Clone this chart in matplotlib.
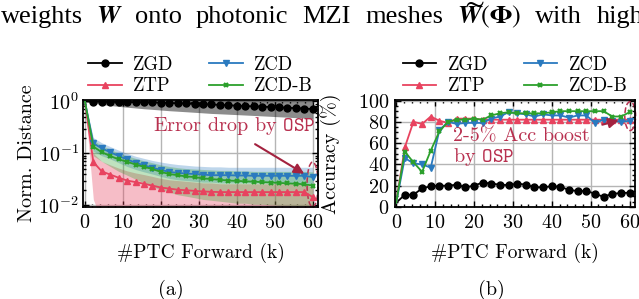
import matplotlib
matplotlib.use('Agg')
import matplotlib.pyplot as plt
from matplotlib.patches import Ellipse
from matplotlib.ticker import AutoMinorLocator, LogLocator, NullFormatter

plt.rcParams['font.family'] = ['cmr10', 'DejaVu Serif']
plt.rcParams['mathtext.fontset'] = 'cm'
plt.rcParams['axes.formatter.use_mathtext'] = True
plt.rcParams['axes.unicode_minus'] = False

# ---------------- data ----------------
x_k = [0.0, 2.22, 4.44, 6.67, 8.89, 11.11, 13.33, 15.56, 17.78, 20.0, 22.22, 24.44, 26.67, 28.89,
       31.11, 33.33, 35.56, 37.78, 40.0, 42.22, 44.44, 46.67, 48.89, 51.11, 53.33, 55.56, 57.78, 60.0]

methods = ['ZGD', 'ZTP', 'ZCD', 'ZCD-B']

# (a) normalized distance (mean, lower, upper)
dist_zgd = [1.0, 0.99, 0.985, 0.98, 0.975, 0.97, 0.965, 0.96, 0.95, 0.94, 0.93, 0.92, 0.91, 0.895,
            0.88, 0.87, 0.855, 0.84, 0.825, 0.81, 0.80, 0.79, 0.775, 0.765, 0.75, 0.74, 0.725, 0.71]
dist_zgd_lo = [1.0, 0.92, 0.87, 0.83, 0.80, 0.77, 0.745, 0.72, 0.70, 0.68, 0.66, 0.645, 0.63, 0.615,
               0.60, 0.585, 0.575, 0.565, 0.555, 0.545, 0.535, 0.525, 0.515, 0.505, 0.495, 0.485, 0.475, 0.465]
dist_zgd_hi = [1.0, 1.1, 1.1, 1.1, 1.1, 1.1, 1.1, 1.1, 1.1, 1.1, 1.1, 1.1, 1.1, 1.1,
               1.1, 1.1, 1.1, 1.1, 1.1, 1.1, 1.1, 1.1, 1.1, 1.1, 1.1, 1.1, 1.1, 1.1]

dist_ztp = [1.0, 0.068, 0.045, 0.039, 0.034, 0.030, 0.028, 0.026, 0.024, 0.022, 0.021, 0.020, 0.0195, 0.019,
            0.0185, 0.0182, 0.018, 0.018, 0.018, 0.018, 0.018, 0.018, 0.018, 0.018, 0.018, 0.018, 0.018, 0.0145]
dist_ztp_lo = [1.0, 0.013, 0.005, 0.005, 0.005, 0.005, 0.005, 0.005, 0.005, 0.005, 0.005, 0.005, 0.005, 0.005,
               0.005, 0.005, 0.005, 0.005, 0.005, 0.005, 0.005, 0.005, 0.005, 0.005, 0.005, 0.005, 0.005, 0.005]
dist_ztp_hi = [1.0, 0.10, 0.07, 0.06, 0.052, 0.046, 0.042, 0.039, 0.036, 0.033, 0.031, 0.030, 0.029, 0.028,
               0.027, 0.027, 0.026, 0.026, 0.026, 0.026, 0.026, 0.026, 0.026, 0.026, 0.026, 0.026, 0.026, 0.022]

dist_zcd = [1.0, 0.156, 0.125, 0.105, 0.089, 0.0765, 0.066, 0.059, 0.053, 0.048, 0.044, 0.042, 0.041, 0.040,
            0.039, 0.038, 0.038, 0.038, 0.0375, 0.0375, 0.037, 0.037, 0.037, 0.037, 0.037, 0.037, 0.037, 0.035]
dist_zcd_lo = [1.0, 0.11, 0.09, 0.078, 0.066, 0.056, 0.049, 0.044, 0.040, 0.036, 0.033, 0.031, 0.030, 0.029,
               0.028, 0.028, 0.027, 0.027, 0.027, 0.027, 0.027, 0.027, 0.027, 0.027, 0.027, 0.027, 0.027, 0.026]
dist_zcd_hi = [1.0, 0.20, 0.16, 0.135, 0.115, 0.10, 0.088, 0.080, 0.073, 0.068, 0.064, 0.061, 0.059, 0.057,
               0.056, 0.055, 0.055, 0.054, 0.054, 0.054, 0.054, 0.054, 0.054, 0.054, 0.054, 0.054, 0.054, 0.054]

dist_zcdb = [1.0, 0.135, 0.105, 0.089, 0.0765, 0.069, 0.061, 0.055, 0.050, 0.044, 0.040, 0.038, 0.036, 0.035,
             0.033, 0.032, 0.031, 0.030, 0.0295, 0.029, 0.0285, 0.028, 0.0275, 0.027, 0.0265, 0.026, 0.0255, 0.024]
dist_zcdb_lo = [1.0, 0.09, 0.07, 0.056, 0.045, 0.038, 0.032, 0.027, 0.023, 0.020, 0.018, 0.016, 0.015, 0.014,
                0.013, 0.0125, 0.012, 0.0115, 0.011, 0.011, 0.0105, 0.0105, 0.0102, 0.0100, 0.0100, 0.0098, 0.0097, 0.0095]
dist_zcdb_hi = [1.0, 0.18, 0.14, 0.12, 0.10, 0.09, 0.08, 0.072, 0.066, 0.060, 0.056, 0.053, 0.051, 0.050,
                0.049, 0.048, 0.047, 0.047, 0.046, 0.046, 0.045, 0.045, 0.045, 0.045, 0.045, 0.045, 0.045, 0.044]

# (b) accuracy (%)
acc_zgd = [4, 11.5, 11.5, 17.5, 19.5, 20, 20, 21, 18.5, 20, 23, 22, 21, 20.5,
           22, 21, 18.5, 18.5, 19.5, 19, 16, 15, 15, 12.5, 9.5, 12.5, 13, 13.5]
acc_ztp = [4, 56, 80, 78, 85, 81, 79, 83, 83, 83, 82, 82, 82, 82,
           82, 82, 82, 82, 82, 82, 82, 82, 82, 82, 82, 82, 82, 82]
acc_zcd = [4, 46, 41, 40, 37, 72, 80, 78, 79, 79, 79, 83, 85, 89,
           88, 87, 85, 87, 86, 86, 84, 86, 86, 79, 82, 81, 80, 81]
acc_zcdb = [4, 52, 42, 33, 53, 71, 80, 82, 82, 83, 82, 86, 88, 89,
            88, 88, 88, 88, 89, 90, 90, 90, 90, 90, 90, 85, 85, 89]

x_ticks = [0, 10, 20, 30, 40, 50, 60]
acc_ticks = [0, 20, 40, 60, 80, 100]

caption_words = ['weights', r'$\boldsymbol{W}$', 'onto', 'photonic', 'MZI', 'meshes',
                 r'$\boldsymbol{W}(\boldsymbol{\Phi})$', 'with', 'high']
caption_xpx = [1, 96, 135, 196, 302, 365, 457, 535, 597]

# ---------------- style ----------------
col = {'ZGD': '#000000', 'ZTP': '#e8435f', 'ZCD': '#2a7abf', 'ZCD-B': '#2ca02c'}
mk = {'ZGD': 'o', 'ZTP': '^', 'ZCD': 'v', 'ZCD-B': 'x'}
ann_col = '#b8304f'
FS = 14.5

fig = plt.figure(figsize=(6.39, 2.99), dpi=100)
ax1 = fig.add_axes([83/639, 1-207/299, 235/639, 107/299])
ax2 = fig.add_axes([395/639, 1-207/299, 240/639, 107/299])

dist = {'ZGD': (dist_zgd, dist_zgd_lo, dist_zgd_hi), 'ZTP': (dist_ztp, dist_ztp_lo, dist_ztp_hi),
        'ZCD': (dist_zcd, dist_zcd_lo, dist_zcd_hi), 'ZCD-B': (dist_zcdb, dist_zcdb_lo, dist_zcdb_hi)}
acc = {'ZGD': acc_zgd, 'ZTP': acc_ztp, 'ZCD': acc_zcd, 'ZCD-B': acc_zcdb}
band_alpha = {'ZGD': 0.45, 'ZTP': 0.35, 'ZCD': 0.3, 'ZCD-B': 0.3}

for m in methods:
    mean, lo, hi = dist[m]
    ax1.fill_between(x_k, lo, hi, color=col[m], alpha=band_alpha[m], lw=0)
for m in methods:
    mean, lo, hi = dist[m]
    mew = 1.6 if m == 'ZCD-B' else 1.0
    ms = 3.5 if m == 'ZCD-B' else 5
    ax1.plot(x_k, mean, color=col[m], marker=mk[m], ms=ms, mew=mew, lw=1.3,
             markevery=slice(1, None), label=m)
    ax2.plot(x_k, acc[m], color=col[m], marker=mk[m], ms=ms, mew=mew, lw=1.3,
             markevery=slice(1, None), label=m)

ax1.set_yscale('log')
ax1.set_ylim(0.0093, 1.06)
ax1.set_xlim(-0.5, 61.4)
ax1.yaxis.set_major_locator(LogLocator(base=10, numticks=5))
ax1.yaxis.set_minor_locator(LogLocator(base=10, subs=range(2, 10), numticks=20))
ax1.yaxis.set_minor_formatter(NullFormatter())

ax2.set_ylim(0, 100.5)
ax2.set_xlim(-0.3, 61.4)
ax2.set_yticks(acc_ticks)
ax2.yaxis.set_minor_locator(AutoMinorLocator(4))

for ax in (ax1, ax2):
    ax.set_xticks(x_ticks)
    ax.xaxis.set_minor_locator(AutoMinorLocator(5))
    ax.grid(True, which='major', color='#b5b5b5', lw=1.0)
    ax.set_axisbelow(True)
    ax.tick_params(which='both', direction='in', top=True, right=True, labelsize=FS, width=1.0)
    ax.tick_params(which='major', length=4)
    ax.tick_params(which='minor', length=2.2)
    ax.tick_params(axis='x', pad=5)
    for s in ax.spines.values():
        s.set_linewidth(1.3)
    ax.set_xlabel('#PTC Forward (k)', fontsize=14, labelpad=8)
    ax.legend(loc='lower center', bbox_to_anchor=(0.5, 1.0), ncol=2, frameon=False,
              fontsize=13.5, handlelength=1.8, handletextpad=0.6, columnspacing=1.9,
              labelspacing=0.2, borderaxespad=0.15, borderpad=0.1)

ax1.tick_params(axis='y', pad=3)
ax2.tick_params(axis='y', pad=4)
ax1.set_ylabel('Norm. Distance', fontsize=FS, labelpad=2)
ax2.set_ylabel('Accuracy (%)', fontsize=FS, labelpad=12)

# annotations (a)
ax1.text(18.0, 0.33, r'Error drop by $\mathtt{OSP}$', color=ann_col, fontsize=FS,
         ha='left', va='center')
ax1.annotate('', xy=(58.4, 0.038), xytext=(44.2, 0.16),
             arrowprops=dict(arrowstyle='-|>,head_length=0.6,head_width=0.3', color='#a3223f', lw=1.5))
ax1.add_patch(Ellipse((0.977, 0.21), 0.047, 0.42, transform=ax1.transAxes, fill=False,
                      ls='--', lw=1.1, ec=ann_col, clip_on=False))

# annotations (b)
ax2.text(14.6, 56, '2-5% Acc boost\nby ' + r'$\mathtt{OSP}$', color=ann_col, fontsize=FS,
         ha='left', va='center', linespacing=1.05)
ax2.annotate('', xy=(57.9, 82.2), xytext=(52.3, 76.6),
             arrowprops=dict(arrowstyle='-|>,head_length=0.6,head_width=0.3', color='#a3223f', lw=1.5))
ax2.add_patch(Ellipse((0.98, 0.85), 0.045, 0.27, transform=ax2.transAxes, fill=False,
                      ls='--', lw=1.1, ec=ann_col, clip_on=False))

# sub-captions
fig.text(171/639, 1-290/299, '(a)', fontsize=FS, ha='center', va='center')
fig.text(491/639, 1-290/299, '(b)', fontsize=FS, ha='center', va='center')

# caption fragment on top (justified words)
for w, xp in zip(caption_words, caption_xpx):
    fig.text(xp/639, 1-23/299, w, fontsize=19, family='Liberation Serif',
             math_fontfamily='stix', ha='left', va='baseline')
# wide tilde over the second W
fig.text((caption_xpx[6] + 15)/639, 1-11/299, r'$\sim$', fontsize=21, math_fontfamily='stix',
         ha='center', va='baseline')

fig.savefig('out.png', dpi=100)
